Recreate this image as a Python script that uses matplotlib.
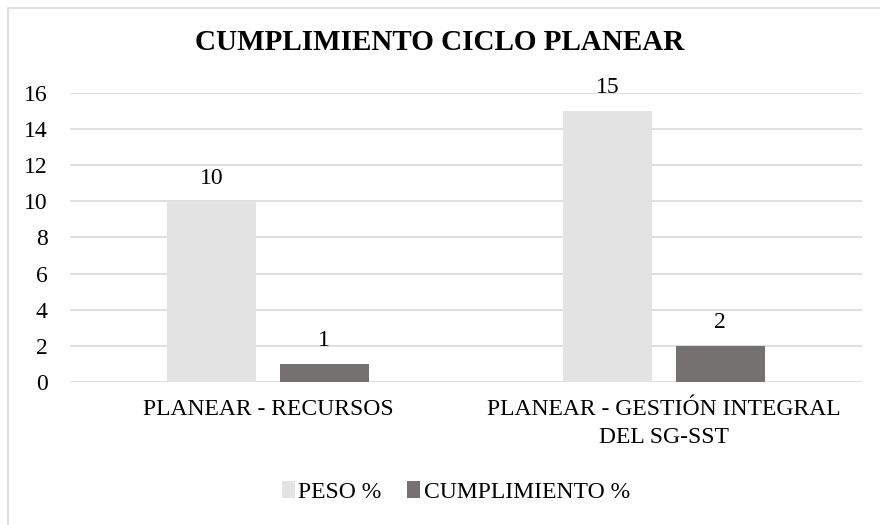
import matplotlib.pyplot as plt
import numpy as np
from matplotlib.patches import Rectangle

categories = ["PLANEAR - RECURSOS", "PLANEAR - GESTIÓN INTEGRAL\nDEL SG-SST"]
peso = [10, 15]
cumplimiento = [1, 2]

plt.rcParams["font.family"] = ["Liberation Serif", "DejaVu Serif"]

fig = plt.figure(figsize=(8.8, 5.25), dpi=100)
ax = fig.add_axes([0.0795, 0.2724, 0.9, 0.5505])

# marco exterior
fig.patches.append(Rectangle((8 / 880, -0.1), 1.2, 1 - 8 / 525 + 0.1,
                             transform=fig.transFigure, fill=False,
                             edgecolor="#d9d9d9", linewidth=1.2))

x = np.arange(len(categories))
w = 0.225
b1 = ax.bar(x - 0.142, peso, w, color="#e3e3e3", label="PESO %", zorder=3)
b2 = ax.bar(x + 0.142, cumplimiento, w, color="#767171", label="CUMPLIMIENTO %", zorder=3)

for bars in (b1, b2):
    for r in bars:
        ax.text(r.get_x() + r.get_width() / 2, r.get_height() + 0.7, f"{r.get_height():g}",
                ha="center", va="bottom", fontsize=17)

ax.set_xlim(-0.5, 1.5)
ax.set_ylim(0, 16)
ax.set_yticks(range(0, 17, 2))
ax.set_xticks(x)
ax.set_xticklabels(categories, fontsize=17, linespacing=1.45)
ax.tick_params(axis="y", labelsize=17, length=0, pad=16)
ax.tick_params(axis="x", length=0, pad=12)
ax.grid(axis="y", color="#d9d9d9", linewidth=1.2, zorder=0)
for s in ax.spines.values():
    s.set_visible(False)

fig.text(0.5, 0.92, "CUMPLIMIENTO CICLO PLANEAR", ha="center", va="center",
         fontsize=21, fontweight="bold")

fig.legend(loc="center", bbox_to_anchor=(0.518, 0.063), ncol=2, frameon=False,
           fontsize=17, handlelength=0.55, handleheight=0.7, handletextpad=0.15,
           columnspacing=1.1)

fig.savefig("out.png", dpi=100)
